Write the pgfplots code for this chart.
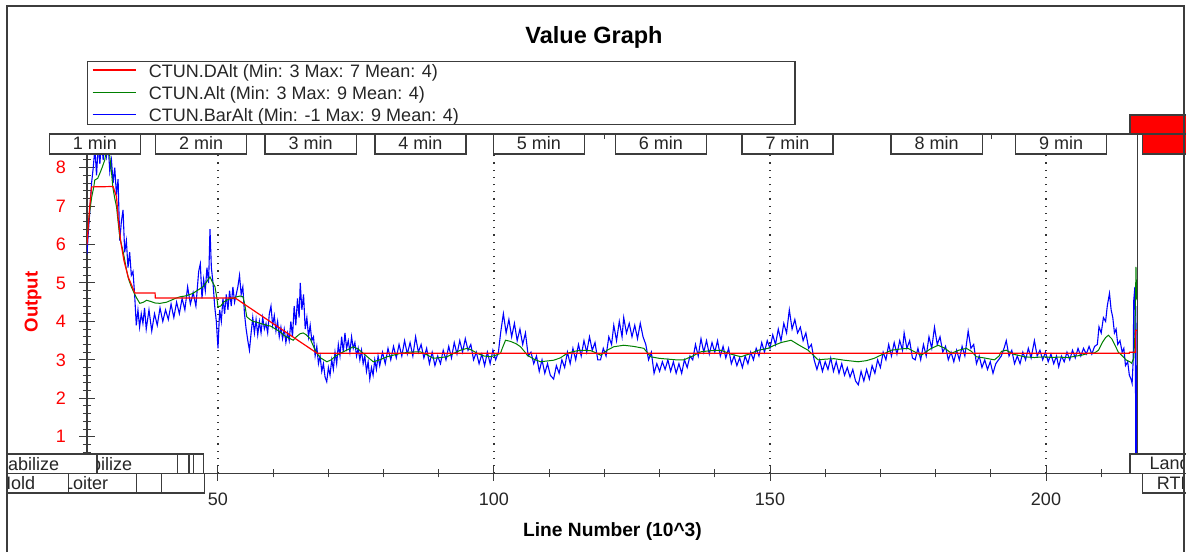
\documentclass[border=0pt]{standalone}
\usepackage{fontspec}
\setmainfont{Liberation Sans}
\usepackage{pgfplots}
\pgfplotsset{compat=1.18}
\definecolor{frm}{RGB}{60,60,60}
\definecolor{cred}{RGB}{255,0,0}
\definecolor{cgreen}{RGB}{0,128,0}
\definecolor{cblue}{RGB}{0,0,255}
\newcommand{\fs}[1]{\fontsize{#1}{#1}\selectfont}
\begin{document}
\begin{tikzpicture}[x=1pt,y=1pt]
\useasboundingbox (0,0) rectangle (1186,552);
\fill[white] (0,0) rectangle (1186,552);
\begin{axis}[
  at={(87pt,78.7pt)}, anchor=south west,
  scale only axis, width=1050.3pt, height=319.3pt,
  xmin=26.27, xmax=216.54, ymin=0.048, ymax=8.356,
  axis x line=bottom, axis y line=left,
  axis line style={-, line width=1.2pt, color=frm},
  xtick={50,100,150,200}, minor xtick={30,40,60,70,80,90,110,120,130,140,160,170,180,190,210},
  ytick={1,2,3,4,5,6,7,8},
  minor ytick={0.2,0.4,0.6,0.8,1.2,1.4,1.6,1.8,2.2,2.4,2.6,2.8,3.2,3.4,3.6,3.8,4.2,4.4,4.6,4.8,5.2,5.4,5.6,5.8,6.2,6.4,6.6,6.8,7.2,7.4,7.6,7.8,8.2},
  tick align=center, major tick length=15pt, minor tick length=8pt,
  tick style={line width=1pt, color=frm},
  xmajorgrids=true,
  major x grid style={dash pattern=on 1.2pt off 6pt, line width=1.2pt, color=black!80},
  /pgf/number format/assume math mode=true,
  xticklabel style={font=\fs{18}, anchor=north, inner sep=0pt, text=black!85},
  yticklabel style={font=\fs{18}, anchor=east, inner sep=0pt, text=cred},
  xticklabel shift=11.5pt, yticklabel shift=13.5pt,
  title={Value Graph},
  title style={font=\bfseries\fs{23.5}, at={(axis description cs:0.4827,1.3267)}, anchor=base, inner sep=0pt},
  xlabel={Line Number (10\textasciicircum 3)},
  xlabel style={font=\bfseries\fs{19.2}, at={(axis description cs:0.5003,-0.1986)}, anchor=base, inner sep=0pt},
  ylabel={Output},
  ylabel style={font=\bfseries\fs{18.6}, text=cred, at={(axis description cs:-0.0471,0.5365)}, anchor=base, inner sep=0pt, rotate=0},
  reverse legend,
  legend style={at={(axis description cs:0.00476,1.2813)}, anchor=north west, draw=none, fill=none,
    inner sep=0pt, outer sep=0pt, font=\fs{18}, row sep=7.6pt, column sep=12.7pt,
    nodes={inner sep=0pt, text=black!85}},
  legend cell align=left,
  legend image code/.code={\draw[#1] (0pt,1.5pt) -- (43pt,1.5pt);},
]
\addplot[cblue, line width=1.1pt] coordinates {
(26.27,5.75)(26.5,6.3)(26.8,6.9)(27.1,7.6)(27.4,8.0)(27.7,8.5)(28.0,7.8)(28.3,8.6)(28.6,8.1)(28.9,8.7)
(29.2,8.2)(29.5,8.8)(29.8,8.3)(30.1,8.6)(30.4,7.9)(30.7,8.2)(31.0,7.6)(31.3,8.0)(31.6,7.3)(31.9,7.7)
(32.2,6.1)(32.5,6.6)(32.8,6.9)(33.1,5.8)(33.4,6.1)(33.7,5.4)(34.0,5.8)(34.3,5.2)(34.6,5.3)(34.9,4.7)
(35.2,3.9)(35.5,4.3)(35.8,3.85)(36.1,4.2)(36.4,3.95)(36.7,4.35)(37.0,3.8)
(37.5,4.3)(38.0,3.75)(38.5,4.2)(39.0,3.9)(39.5,4.35)(40.0,4.0)(40.5,4.3)(41.0,4.05)(41.5,4.45)(42.0,4.1)
(42.5,4.5)(43.0,4.2)(43.5,4.6)(44.0,4.3)(44.5,4.9)(45.0,4.45)(45.5,4.75)(46.0,4.4)(46.5,5.3)(46.8,5.5)
(47.1,4.6)(47.4,5.1)(47.7,4.8)(48.0,5.4)(48.3,5.0)(48.55,6.4)(48.8,5.4)(49.1,5.0)(49.4,4.4)(49.7,4.0)
(50.0,3.3)(50.3,4.3)(50.6,4.0)(50.9,4.6)(51.2,4.2)(51.5,4.7)(51.8,4.3)(52.1,4.8)(52.4,4.4)(52.7,4.9)
(53.0,4.5)(53.3,4.7)(53.6,4.9)(53.9,5.2)(54.2,4.7)(54.5,4.9)(54.8,4.2)(55.1,3.8)(55.4,3.5)(55.7,3.25)
(56.0,3.7)(56.3,4.1)(56.6,3.7)(56.9,4.05)(57.2,3.65)(57.5,4.0)(57.8,3.7)(58.1,4.1)(58.4,3.8)(58.7,3.95)
(59.0,3.7)(59.3,4.2)(59.6,4.4)(59.9,3.9)(60.2,4.15)(60.5,3.75)(60.8,4.0)(61.1,3.6)(61.4,3.85)(61.7,3.55)
(62.0,3.8)(62.3,3.45)(62.6,3.7)(62.9,3.5)(63.2,4.0)(63.5,3.6)(63.8,4.4)(64.1,3.9)(64.4,4.6)(64.7,4.1)
(64.9,5.0)(65.2,4.3)(65.5,4.7)(65.8,3.8)(66.1,4.1)(66.4,3.6)(66.7,3.9)(67.0,3.5)(67.3,3.6)(67.6,3.1)
(67.9,3.35)(68.2,2.9)(68.5,3.1)(68.8,2.7)(69.1,2.9)(69.4,2.55)(69.7,2.43)(70.0,2.8)(70.3,2.6)(70.6,3.0)
(70.9,2.75)(71.2,3.2)(71.5,2.9)(71.8,3.4)(72.1,3.1)(72.4,3.6)(72.7,3.2)(73.0,3.7)(73.3,3.3)(73.6,3.5)
(73.9,3.2)(74.2,3.6)(74.5,3.3)(74.8,3.45)(75.1,3.1)(75.4,3.3)(75.7,3.0)(76.0,3.25)(76.3,2.9)(76.6,3.1)
(76.9,2.7)(77.2,2.95)(77.5,2.5)(77.8,2.8)(78.1,2.6)(78.4,3.0)(78.7,2.75)(79.0,3.1)(79.3,2.85)
(79.8,3.2)(80.3,2.9)(80.8,3.3)(81.3,3.0)(81.8,3.35)(82.3,3.05)(82.8,3.4)(83.3,3.1)(83.8,3.5)(84.3,3.15)
(84.8,3.45)(85.3,3.1)(85.8,3.6)(86.3,3.2)(86.8,3.4)(87.3,3.05)(87.8,3.3)(88.3,2.9)(88.8,3.2)(89.3,2.85)
(89.8,3.1)(90.3,2.9)(90.8,3.25)(91.3,3.0)(91.8,3.35)(92.3,3.05)(92.8,3.45)(93.3,3.15)(93.8,3.5)(94.3,3.2)
(94.8,3.55)(95.3,3.25)(95.8,3.4)(96.3,3.0)(96.8,3.2)(97.3,2.9)(97.8,3.15)(98.3,2.85)(98.8,3.2)(99.3,2.9)
(99.8,3.25)(100.3,3.0)(100.8,3.2)(101.2,3.7)(101.7,4.2)(102.2,3.7)(102.7,4.05)(103.2,3.6)(103.7,3.95)(104.2,3.5)
(104.7,3.8)(105.2,3.4)(105.7,3.7)(106.2,3.1)(106.7,3.2)(107.2,2.9)(107.7,3.1)(108.2,2.7)(108.7,3.0)(109.2,2.65)
(109.7,2.9)(110.2,2.6)(110.8,2.5)(111.3,2.85)(111.8,2.65)(112.3,3.0)(112.8,2.8)(113.3,3.2)(113.8,2.9)(114.3,3.3)
(114.8,3.0)(115.3,3.4)(115.8,3.1)(116.3,3.5)(116.8,3.2)(117.3,3.6)(117.8,3.25)(118.3,3.45)(118.8,3.0)(119.3,3.0)
(119.8,3.3)(120.3,3.1)(120.8,3.6)(121.3,3.4)(121.7,3.9)(122.2,3.5)(122.7,4.0)(123.2,3.6)(123.5,4.1)(124.0,3.7)
(124.5,3.95)(125.0,3.6)(125.5,3.9)(126.0,3.55)(126.5,3.95)(127.0,3.6)(127.5,3.4)(128.0,3.0)(128.5,3.2)(129.0,2.65)
(129.5,2.9)(130.0,2.7)(130.5,2.95)(131.0,2.75)(131.5,3.0)(132.0,2.7)(132.5,2.95)(133.0,2.65)(133.5,2.9)(134.0,2.65)
(134.5,3.0)(135.0,2.8)(135.5,3.1)(136.0,3.0)(136.5,3.4)(137.0,3.1)(137.5,3.55)(138.0,3.2)(138.5,3.5)(139.0,3.15)
(139.5,3.45)(140.0,3.2)(140.5,3.5)(141.0,3.1)(141.5,3.35)(142.0,3.05)(142.5,3.3)(143.0,2.9)(143.5,3.1)(144.0,2.85)
(144.5,3.05)(145.0,2.8)(145.5,3.1)(146.0,2.9)(146.5,3.2)(147.0,3.0)(147.5,3.3)(148.0,3.1)(148.5,3.45)(149.0,3.2)
(149.5,3.5)(150.0,3.3)(150.5,3.65)(151.0,3.4)(151.5,3.8)(152.0,3.5)(152.5,3.95)(153.0,3.7)(153.5,4.3)(154.0,3.8)
(154.5,4.05)(155.0,3.7)(155.5,3.85)(156.0,3.5)(156.5,3.7)(157.0,3.3)(157.5,3.4)(158.0,3.0)(158.5,2.75)(159.0,3.0)
(159.5,2.7)(160.0,2.95)(160.5,2.75)(161.0,3.05)(161.5,2.7)(162.0,2.95)(162.5,2.65)(163.0,2.9)(163.5,2.6)(164.0,2.8)
(164.5,2.55)(165.0,2.75)(165.5,2.45)(166.0,2.35)(166.5,2.7)(167.0,2.45)(167.5,2.75)(168.0,2.5)(168.5,2.85)(169.0,2.65)
(169.5,3.0)(170.0,2.8)(170.5,3.2)(171.0,3.0)(171.5,3.4)(172.0,3.1)(172.5,3.45)(173.0,3.15)(173.5,3.5)(174.0,3.25)
(174.3,3.7)(174.8,3.3)(175.3,3.5)(175.8,3.05)(176.3,3.0)(176.8,3.3)(177.3,3.0)(177.8,3.4)(178.3,3.1)(178.8,3.6)
(179.3,3.3)(179.8,3.85)(180.3,3.4)(180.8,3.6)(181.3,3.2)(181.8,3.35)(182.3,3.0)(182.8,3.2)(183.3,2.95)(183.8,3.25)
(184.3,3.0)(184.8,3.35)(185.3,3.1)(185.9,3.75)(186.4,3.3)(186.9,3.4)(187.4,2.9)(187.9,3.1)(188.4,2.8)(188.9,3.0)
(189.4,2.75)(189.9,2.95)(190.4,2.65)(190.9,2.9)(191.4,3.0)(191.9,3.1)(192.4,3.3)(192.8,3.5)(193.3,3.1)(193.8,3.25)
(194.3,2.9)(194.8,3.1)(195.3,2.9)(195.8,3.2)(196.3,3.0)(196.8,3.3)(197.3,3.05)(197.9,3.5)(198.4,3.1)(198.9,3.25)
(199.4,3.0)(199.9,3.2)(200.4,2.95)(200.9,3.15)(201.4,2.9)(201.9,3.1)(202.3,2.82)(202.8,3.1)(203.3,2.95)(203.8,3.2)
(204.3,3.0)(204.8,3.25)(205.3,3.05)(205.8,3.3)(206.3,3.1)(206.8,3.3)(207.3,3.15)(207.8,3.35)(208.3,3.15)(208.8,3.35)
(209.3,3.4)(209.6,3.86)(210.0,3.7)(210.4,4.1)(210.8,4.0)(211.1,4.4)(211.5,4.73)(211.8,4.3)(212.1,4.1)(212.4,3.7)
(212.7,3.8)(213.0,3.4)(213.4,3.5)(213.8,3.2)(214.1,3.3)(214.4,2.85)(214.8,2.95)(215.1,2.6)(215.4,2.5)(215.6,2.39)
(215.8,3.0)(215.9,4.55)(216.1,4.9)(216.2,3.0)(216.3,-1.0)(216.42,-1.0)(216.5,4.4)
};
\addlegendentry{CTUN.BarAlt (Min: -1 Max: 9 Mean: 4)}
\addplot[cgreen, line width=1pt] coordinates {
(26.27,6.1)(26.46,6.46)(26.8,6.9)(27.13,7.24)(27.5,7.5)(27.68,7.68)(28.2,7.72)(28.59,7.85)(29.0,8.0)(29.49,8.2)
(29.8,8.5)(30.1,8.45)(30.4,8.3)(30.7,7.9)(30.94,7.5)(31.3,7.2)(31.62,6.98)(31.9,6.6)(32.21,6.2)(32.5,6.0)
(32.76,5.86)(33.1,5.6)(33.43,5.34)(33.8,5.1)(34.3,4.9)(34.94,4.7)(35.3,4.6)(35.84,4.47)(36.5,4.5)(37.06,4.55)
(37.8,4.52)(38.57,4.48)(39.5,4.47)(40.69,4.5)(41.5,4.55)(42.3,4.6)(43.1,4.64)(44.0,4.66)(44.9,4.7)(45.46,4.73)
(46.2,4.8)(47.28,4.9)(47.8,5.0)(48.55,5.16)(48.9,5.05)(49.46,4.9)(49.8,4.6)(50.0,4.38)(50.5,4.4)(51.0,4.5)
(51.58,4.55)(52.2,4.6)(52.72,4.6)(53.4,4.64)(54.0,4.66)(54.54,4.64)(54.9,4.4)(55.21,4.12)(55.8,4.05)(56.35,4.0)
(57.0,3.98)(57.62,3.95)(58.84,3.9)(59.5,3.88)(60.2,3.82)(61.25,3.73)(62.1,3.62)(63.07,3.55)(63.61,3.51)(64.2,3.6)
(64.88,3.68)(65.43,3.7)(66.0,3.65)(66.7,3.55)(67.3,3.35)(67.91,3.17)(68.6,3.05)(69.73,2.95)(70.5,3.0)(71.3,3.1)
(72.14,3.17)(73.3,3.25)(74.5,3.34)(75.4,3.28)(76.32,3.17)(77.3,3.05)(78.13,2.95)(79.3,3.0)(80.62,3.08)(82.0,3.13)
(83.03,3.17)(84.8,3.2)(86.66,3.21)(88.0,3.12)(89.02,3.04)(90.3,3.06)(91.51,3.08)(92.7,3.17)(93.92,3.25)(95.14,3.3)
(96.0,3.25)(96.95,3.17)(98.2,3.1)(99.37,3.08)(100.3,3.12)(101.18,3.17)(101.5,3.3)(102.09,3.51)(103.0,3.48)(104.0,3.42)
(104.81,3.34)(105.5,3.22)(106.03,3.12)(107.2,3.02)(108.44,2.95)(109.6,2.97)(110.8,2.99)(112.0,3.05)(113.29,3.17)(114.5,3.22)
(115.7,3.25)(117.52,3.24)(118.5,3.18)(119.33,3.12)(120.5,3.25)(121.69,3.34)(123.5,3.38)(125.3,3.35)(127.13,3.3)(128.4,3.08)
(129.9,3.04)(131.43,3.02)(133.0,3.0)(134.39,3.0)(136.0,3.1)(137.48,3.21)(139.3,3.24)(141.11,3.25)(142.9,3.15)(144.74,3.08)
(146.2,3.15)(147.9,3.25)(149.64,3.3)(150.8,3.38)(152.0,3.45)(153.81,3.51)(155.3,3.38)(156.9,3.25)(158.71,3.0)(160.2,3.02)
(161.62,3.03)(163.5,2.99)(165.97,2.95)(167.5,2.98)(168.88,3.04)(170.5,3.15)(171.97,3.25)(173.5,3.28)(175.0,3.3)(176.3,3.2)
(177.41,3.12)(179.0,3.28)(180.44,3.38)(181.7,3.3)(182.85,3.17)(184.2,3.25)(185.57,3.3)(186.5,3.22)(187.4,3.08)(188.8,3.05)
(190.65,3.0)(191.5,3.1)(191.92,3.22)(192.83,3.25)(194.0,3.15)(196.1,3.08)(197.9,3.06)(199.7,3.08)(201.0,3.06)(202.3,3.07)
(204.03,3.06)(205.5,3.1)(206.44,3.12)(207.66,3.17)(208.8,3.18)(209.5,3.25)(210.2,3.45)(210.8,3.58)(211.29,3.64)(211.9,3.55)
(212.5,3.38)(213.1,3.2)(213.7,3.12)(214.5,3.0)(215.2,2.95)(215.52,2.91)(215.9,3.05)(216.12,3.69)(216.3,5.42)(216.42,4.6)
(216.54,4.55)
};
\addlegendentry{CTUN.Alt (Min: 3 Max: 9 Mean: 4)}
\addplot[cred, line width=1.2pt] coordinates {
(26.27,6.0)(26.46,6.4)(26.77,7.0)(27.1,7.5)(30.99,7.51)(31.62,7.24)(31.9,6.72)(32.34,6.12)(32.94,5.6)(33.72,5.16)
(34.94,4.74)(38.6,4.74)(38.65,4.61)(53.1,4.61)(67.97,3.17)(215.1,3.17)(215.15,3.2)(216.2,3.2)(216.25,3.77)(216.54,3.77)
};
\addlegendentry{CTUN.DAlt (Min: 3 Max: 7 Mean: 4)}
\end{axis}
% legend frame
\draw[frm, line width=1.2pt] (87.7,490.3) rectangle (795,427.3);
% x axis extension and right axis line
\draw[frm, line width=1.2pt] (7,78.7) -- (1184,78.7);
\draw[frm, line width=1.2pt] (1137.3,418) -- (1137.3,98);
% minute band
\draw[frm, line width=1.2pt] (49.3,418) -- (1137.3,418);
\draw[frm, line width=1pt] (604,418) -- (604,413);
\draw[frm, line width=1pt] (991,418) -- (991,413);
\foreach \a/\b/\t in {49.3/140.7/1, 155.7/246.7/2, 265/356.3/3, 375/466/4, 493.3/584.3/5, 615.3/706.3/6, 742/833/7, 891/982.3/8, 1015.7/1106.7/9}{
  \draw[frm, line width=1.2pt, fill=white] (\a,418) rectangle (\b,398);
  \node[anchor=base, inner sep=0pt, font=\fs{18}, text=black!85] at ({(\a+\b)/2},402) {\t{} min};
}
% red boxes
\draw[frm, line width=1.2pt, fill=cred] (1130,437) rectangle (1190,418);
\draw[frm, line width=1.2pt, fill=cred] (1142.3,418) rectangle (1190,398);
% mode boxes bottom left
\foreach \a/\b in {7/97, 97/177.7, 177.7/189, 189/193.3, 193.3/203.3}{
  \draw[frm, line width=1.2pt, fill=white] (\a,98) rectangle (\b,78.7);
}
\foreach \a/\b in {7/68.3, 68.3/136.7, 136.7/161.7, 161.7/204.5}{
  \draw[frm, line width=1.2pt, fill=white] (\a,78.7) rectangle (\b,59);
}
\begin{scope}\clip (7.6,98) rectangle (96.4,78.7);
\node[anchor=base west, inner sep=0pt, font=\fs{18}, text=black!85] at (-9,82) {Stabilize};\end{scope}
\begin{scope}\clip (97.6,98) rectangle (177.1,78.7);
\node[anchor=base west, inner sep=0pt, font=\fs{18}, text=black!85] at (64,82) {Stabilize};\end{scope}
\begin{scope}\clip (7.6,78.7) rectangle (67.7,59);
\node[anchor=base west, inner sep=0pt, font=\fs{18}, text=black!85] at (-2,62.5) {Hold};\end{scope}
\begin{scope}\clip (68.9,78.7) rectangle (136.1,59);
\node[anchor=base west, inner sep=0pt, font=\fs{18}, text=black!85] at (63,62.5) {Loiter};\end{scope}
% mode boxes bottom right
\draw[frm, line width=1.2pt, fill=white] (1130,98) rectangle (1190,78.7);
\draw[frm, line width=1.2pt, fill=white] (1142.3,78.7) rectangle (1190,59);
\begin{scope}\clip (1130.6,98) rectangle (1183.5,59);
\node[anchor=base west, inner sep=0pt, font=\fs{18}, text=black!85] at (1149.3,82.7) {Land};
\node[anchor=base west, inner sep=0pt, font=\fs{18}, text=black!85] at (1156.7,62.5) {RTL};
\end{scope}
% outer frame
\draw[frm, line width=1.3pt] (7,0) -- (7,546) -- (1184,546) -- (1184,0);
\end{tikzpicture}
\end{document}
